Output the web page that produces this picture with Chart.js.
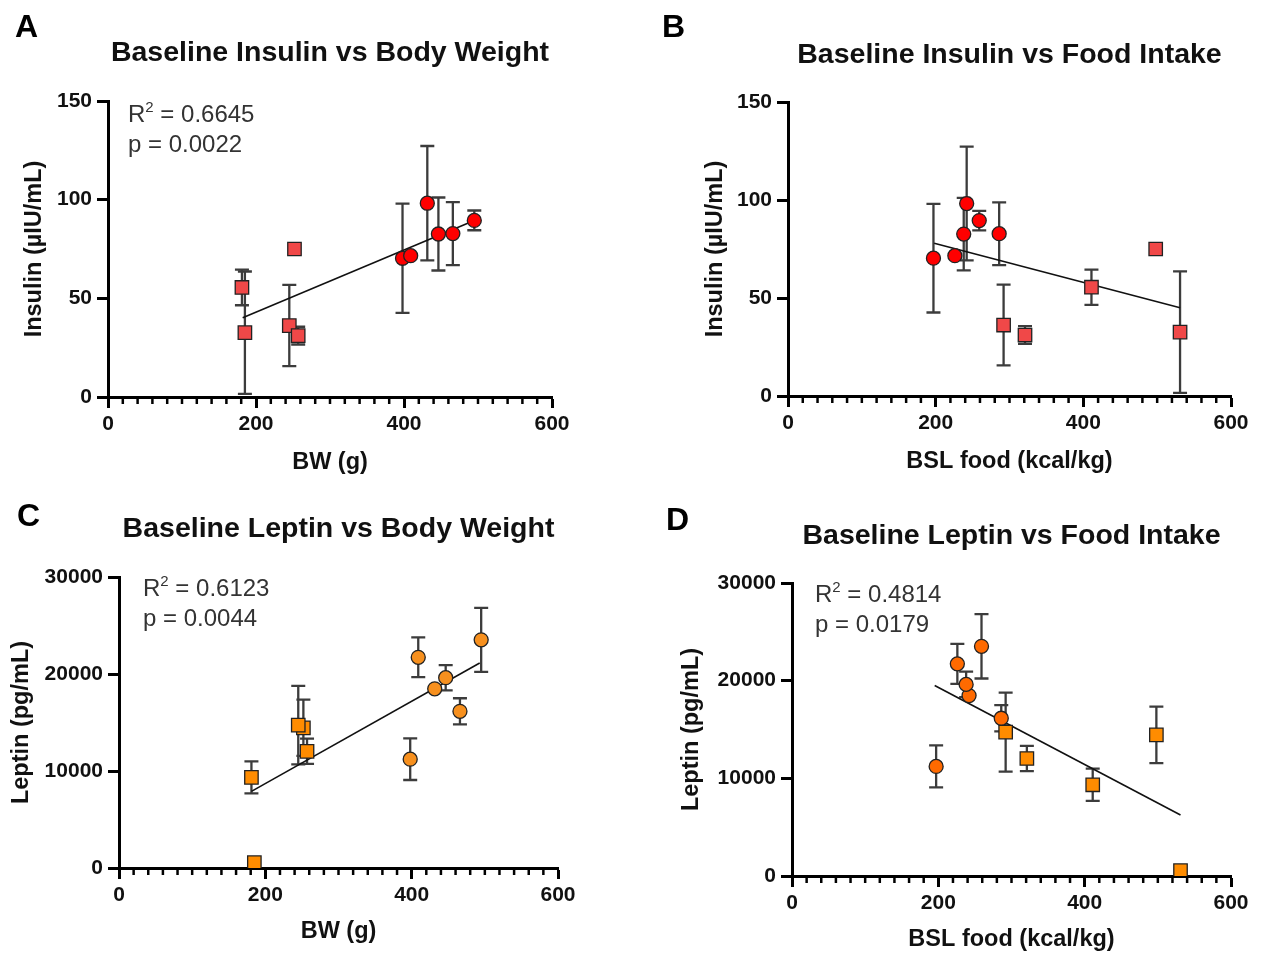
<!DOCTYPE html>
<html>
<head>
<meta charset="utf-8">
<script src="https://cdn.jsdelivr.net/npm/chart.js@4.4.1/dist/chart.umd.min.js"></script>
<style>
  html, body { margin: 0; padding: 0; background: #fff; }
  #wrap { position: relative; width: 1262px; height: 954px; overflow: hidden; }
  canvas { position: absolute; }
  .letter { position: absolute; font: bold 32px "Liberation Sans", Arial, sans-serif; line-height: 32px; color: #000; }
  .stat { position: absolute; font: 24px "Liberation Sans", Arial, sans-serif; line-height: 30px; color: #333; white-space: nowrap; }
  .stat .sup { font-size: 15px; position: relative; top: -10px; line-height: 0; }
</style>
</head>
<body>
<div id="wrap">
  <canvas id="cA" width="631" height="477" style="left:0;top:0"></canvas>
  <canvas id="cB" width="631" height="477" style="left:631px;top:0"></canvas>
  <canvas id="cC" width="631" height="477" style="left:0;top:477px"></canvas>
  <canvas id="cD" width="631" height="477" style="left:631px;top:477px"></canvas>
  <div class="letter" style="left:15px;top:10px">A</div>
  <div class="letter" style="left:662px;top:10px">B</div>
  <div class="letter" style="left:17px;top:499px">C</div>
  <div class="letter" style="left:666px;top:503px">D</div>
  <div class="stat" style="left:128px;top:99px">R<span class="sup">2</span> = 0.6645<br>p = 0.0022</div>
  <div class="stat" style="left:143px;top:573px">R<span class="sup">2</span> = 0.6123<br>p = 0.0044</div>
  <div class="stat" style="left:815px;top:579px">R<span class="sup">2</span> = 0.4814<br>p = 0.0179</div>
</div>
<script>
// ---- data ----
// animals shown as squares
const squareBW   = [181, 185, 252, 245, 257];
const squareFood = [411, 531, 498, 292, 321];
// animals shown as circles
const circleBW   = [398, 409, 431.5, 446.5, 466, 495];
const circleFood = [197, 226, 242, 238, 286, 259];

const squareInsulin    = [55.5, 32.6, 75, 36.2, 31.1];
const squareInsulinErr = [9, 31, 0, 20.6, 4.5];
const circleInsulin    = [70.3, 71.6, 98.2, 82.6, 82.8, 89.5];
const circleInsulinErr = [27.7, 0, 29, 18.5, 16, 5];

const squareLeptin    = [9340, 550, 14450, 14730, 12030];
const squareLeptinErr = [1650, 0, 2900, 4050, 1300];
const circleLeptin    = [11220, 21720, 18470, 19620, 16150, 23520];
const circleLeptinErr = [2150, 2050, 0, 1300, 1350, 3300];

// regression line end points
const regA_x = [182, 495];  const regA_y = [40.2, 89.4];
const regB_x = [198, 531];  const regB_y = [77.9, 45];
const regC_x = [181, 493];  const regC_y = [7900, 21130];
const regD_x = [195, 531];  const regD_y = [19500, 6250];

// axis ticks
const xTicks = [0, 200, 400, 600];
const insulinTicks = [0, 50, 100, 150];
const leptinTicks = [0, 10000, 20000, 30000];

const titles = {
  A: 'Baseline Insulin vs Body Weight',
  B: 'Baseline Insulin vs Food Intake',
  C: 'Baseline Leptin vs Body Weight',
  D: 'Baseline Leptin vs Food Intake'
};
const xLabels = { A: 'BW (g)', B: 'BSL food (kcal/kg)', C: 'BW (g)', D: 'BSL food (kcal/kg)' };
const yLabels = { A: 'Insulin (µIU/mL)', B: 'Insulin (µIU/mL)', C: 'Leptin (pg/mL)', D: 'Leptin (pg/mL)' };

// ---- styling / layout ----
const FONT = '"Liberation Sans", Arial, sans-serif';
const TITLE_SIZE = 28.5, AXT_SIZE = 23.5, TICK_SIZE = 21;
const LH = 1.2;

const layoutSpec = {
  A: { canvas: [0, 0, 631, 477],     plot: [108, 101, 552, 397], titleY: 53,  yTitleX: 35,  xTitleY: 463 },
  B: { canvas: [631, 0, 631, 477],   plot: [788, 102, 1231, 396], titleY: 55, yTitleX: 716, xTitleY: 462 },
  C: { canvas: [0, 477, 631, 477],   plot: [119, 577, 558, 868], titleY: 529, yTitleX: 22,  xTitleY: 932 },
  D: { canvas: [631, 477, 631, 477], plot: [792, 583, 1231, 876], titleY: 536, yTitleX: 692, xTitleY: 940 }
};

function zip(xs, ys) { return xs.map((x, i) => ({ x: x, y: ys[i] })); }

const errorBarPlugin = {
  id: 'errorBars',
  beforeDatasetsDraw(chart) {
    const ctx = chart.ctx;
    const xs = chart.scales.x, ys = chart.scales.y;
    ctx.save();
    ctx.strokeStyle = '#3c3c3c';
    ctx.lineWidth = 2.3;
    chart.data.datasets.forEach(ds => {
      if (!ds.errors) return;
      ds.data.forEach((p, i) => {
        const e = ds.errors[i];
        if (!e) return;
        const px = xs.getPixelForValue(p.x);
        const top = ys.getPixelForValue(p.y + e);
        const bot = ys.getPixelForValue(Math.max(0, p.y - e));
        ctx.beginPath();
        ctx.moveTo(px, top); ctx.lineTo(px, bot);
        ctx.moveTo(px - 7, top); ctx.lineTo(px + 7, top);
        ctx.moveTo(px - 7, bot); ctx.lineTo(px + 7, bot);
        ctx.stroke();
      });
    });
    ctx.restore();
  }
};

const minorTickPlugin = {
  id: 'minorTicks',
  afterDraw(chart) {
    const ctx = chart.ctx;
    const xs = chart.scales.x;
    ctx.save();
    ctx.strokeStyle = '#000';
    ctx.lineWidth = 2.5;
    for (let v = 20; v < 600; v += 20) {
      if (v % 200 === 0) continue;
      const px = xs.getPixelForValue(v);
      ctx.beginPath();
      ctx.moveTo(px, xs.top);
      ctx.lineTo(px, xs.top + 7);
      ctx.stroke();
    }
    ctx.restore();
  }
};

function makePanel(id, xSq, ySq, eSq, xCi, yCi, eCi, regX, regY, yTickVals, sqColor, ciColor) {
  const L = layoutSpec[id];
  const [cx, cy, cw, ch] = L.canvas;
  const [pl, pt, pr, pb] = L.plot;
  const titleLH = TITLE_SIZE * LH, axLH = AXT_SIZE * LH;
  const padLeft = L.yTitleX - cx - axLH / 2;
  const yAxisW = pl - cx - padLeft;
  const padRight = cx + cw - pr;
  const padTop = L.titleY - cy - titleLH / 2;
  const titlePadBottom = pt - cy - padTop - titleLH;
  const xAxisH = L.xTitleY + axLH / 2 - pb;
  const padBottom = cy + ch - (L.xTitleY + axLH / 2);
  const yMax = yTickVals[yTickVals.length - 1];

  const tickFont = { family: FONT, size: TICK_SIZE, weight: 'bold' };
  const axFont = { family: FONT, size: AXT_SIZE, weight: 'bold' };

  new Chart(document.getElementById('c' + id), {
    type: 'scatter',
    data: {
      datasets: [
        { data: zip(xCi, yCi), errors: eCi, pointStyle: 'circle', pointRadius: 7,
          backgroundColor: ciColor, borderColor: '#222', borderWidth: 1.3 },
        { data: zip(xSq, ySq), errors: eSq, pointStyle: 'rect', pointRadius: 9.5,
          backgroundColor: sqColor, borderColor: '#222', borderWidth: 1.3 },
        { type: 'line', data: zip(regX, regY), borderColor: '#111', borderWidth: 1.6,
          pointRadius: 0, fill: false, showLine: true }
      ]
    },
    options: {
      responsive: false,
      animation: false,
      devicePixelRatio: 1,
      layout: { padding: { left: padLeft, right: padRight, top: padTop, bottom: padBottom } },
      plugins: {
        legend: { display: false },
        tooltip: { enabled: false },
        title: {
          display: true, text: titles[id], fullSize: false, color: '#111',
          font: { family: FONT, size: TITLE_SIZE, weight: 'bold', lineHeight: LH },
          padding: { top: 0, bottom: titlePadBottom }
        }
      },
      scales: {
        x: {
          type: 'linear', min: xTicks[0], max: xTicks[xTicks.length - 1],
          afterFit(s) { s.height = xAxisH; },
          afterBuildTicks(s) { s.ticks = xTicks.map(v => ({ value: v })); },
          ticks: { font: tickFont, color: '#111', padding: 4, maxRotation: 0, callback: v => String(v) },
          grid: { drawOnChartArea: false, drawTicks: true, tickLength: 11, tickWidth: 3, tickColor: '#000' },
          border: { color: '#000', width: 3 },
          title: { display: true, text: xLabels[id], font: Object.assign({ lineHeight: LH }, axFont), color: '#111', padding: 0 }
        },
        y: {
          type: 'linear', min: yTickVals[0], max: yMax,
          afterFit(s) { s.width = yAxisW; },
          afterBuildTicks(s) { s.ticks = yTickVals.map(v => ({ value: v })); },
          ticks: { font: tickFont, color: '#111', padding: 5, callback: v => String(v) },
          grid: { drawOnChartArea: false, drawTicks: true, tickLength: 11, tickWidth: 3, tickColor: '#000' },
          border: { color: '#000', width: 3 },
          title: { display: true, text: yLabels[id], font: Object.assign({ lineHeight: LH }, axFont), color: '#111', padding: 0 }
        }
      }
    },
    plugins: [errorBarPlugin, minorTickPlugin]
  });
}

makePanel('A', squareBW, squareInsulin, squareInsulinErr, circleBW, circleInsulin, circleInsulinErr,
          regA_x, regA_y, insulinTicks, '#f04848', '#ff0000');
makePanel('B', squareFood, squareInsulin, squareInsulinErr, circleFood, circleInsulin, circleInsulinErr,
          regB_x, regB_y, insulinTicks, '#f04848', '#ff0000');
makePanel('C', squareBW, squareLeptin, squareLeptinErr, circleBW, circleLeptin, circleLeptinErr,
          regC_x, regC_y, leptinTicks, '#ff8c00', '#f7901e');
makePanel('D', squareFood, squareLeptin, squareLeptinErr, circleFood, circleLeptin, circleLeptinErr,
          regD_x, regD_y, leptinTicks, '#ff8c00', '#ff6a00');
</script>
</body>
</html>
